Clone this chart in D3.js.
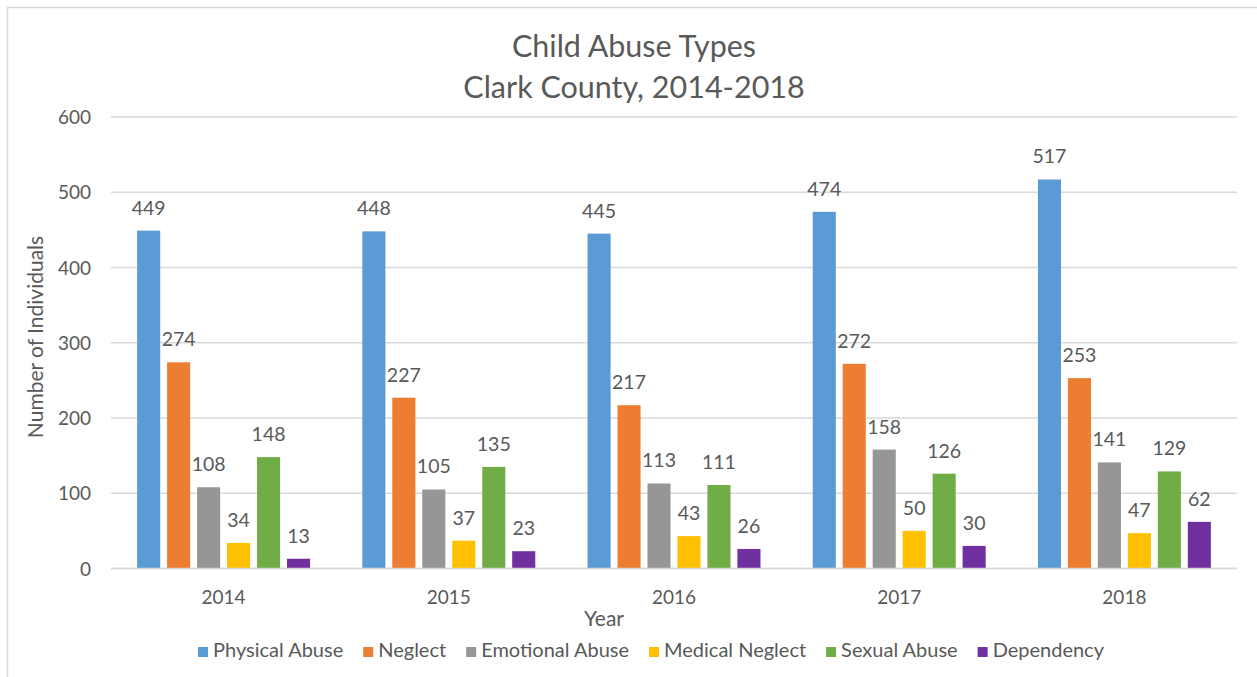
<!DOCTYPE html>
<html>
<head>
<meta charset="utf-8">
<script src="https://cdn.jsdelivr.net/npm/d3@7"></script>
<style>
  html, body { margin: 0; padding: 0; background: #fff; }
  svg { display: block; }
  text { font-family: Lato, "Open Sans", sans-serif; fill: #595959; }
</style>
</head>
<body>
<svg id="chart" width="1257" height="677"></svg>
<script>
const years = ["2014", "2015", "2016", "2017", "2018"];
const seriesNames = ["Physical Abuse", "Neglect", "Emotional Abuse", "Medical Neglect", "Sexual Abuse", "Dependency"];
const physicalAbuse = [449, 448, 445, 474, 517];
const neglect = [274, 227, 217, 272, 253];
const emotionalAbuse = [108, 105, 113, 158, 141];
const medicalNeglect = [34, 37, 43, 50, 47];
const sexualAbuse = [148, 135, 111, 126, 129];
const dependency = [13, 23, 26, 30, 62];
const yTicks = [0, 100, 200, 300, 400, 500, 600];
const colors = ["#5B9BD5", "#ED7D31", "#969696", "#FFC000", "#70AD47", "#7030A0"];

const seriesValues = [physicalAbuse, neglect, emotionalAbuse, medicalNeglect, sexualAbuse, dependency];

const svg = d3.select("#chart");

// chart border
svg.append("rect").attr("x", 7.5).attr("y", 7.5).attr("width", 1260).attr("height", 700)
  .attr("fill", "none").attr("stroke", "#d9d9d9").attr("stroke-width", 1.5);

const x0 = d3.scaleBand().domain(years).range([111, 1237]).paddingInner(0.232).paddingOuter(0.116);
const x1 = d3.scaleBand().domain(seriesNames).range([0, x0.bandwidth()]).paddingInner(0.23).paddingOuter(0);
const y = d3.scaleLinear().domain([0, 600]).range([568.5, 117]);

// gridlines
svg.append("g").selectAll("line").data(yTicks).join("line")
  .attr("x1", 111).attr("x2", 1237)
  .attr("y1", d => y(d)).attr("y2", d => y(d))
  .attr("stroke", "#d9d9d9").attr("stroke-width", 1.5);

// y tick labels
const yAxis = d3.axisLeft(y).tickValues(yTicks).tickSize(0).tickPadding(0);
const gy = svg.append("g").attr("transform", "translate(91,0)").call(yAxis);
gy.select(".domain").remove();
gy.selectAll("text").attr("font-size", 19).style("font-family", "Lato, sans-serif").attr("fill", "#595959").attr("dy", "0.35em");

// x tick labels
const xAxis = d3.axisBottom(x0).tickSize(0).tickPadding(0);
const gx = svg.append("g").attr("transform", "translate(0,590)").call(xAxis);
gx.select(".domain").remove();
gx.selectAll("text").attr("font-size", 19).style("font-family", "Lato, sans-serif").attr("fill", "#595959").attr("dy", "0.72em");

// bars
const groups = svg.append("g").selectAll("g").data(years).join("g")
  .attr("transform", d => `translate(${x0(d)},0)`);

groups.each(function(yr, yi) {
  const g = d3.select(this);
  const data = seriesNames.map((s, si) => ({ s, si, v: seriesValues[si][yi] }));
  g.selectAll("rect").data(data).join("rect")
    .attr("x", d => x1(d.s))
    .attr("width", x1.bandwidth())
    .attr("y", d => y(d.v))
    .attr("height", d => y(0) - y(d.v))
    .attr("fill", d => colors[d.si]);
  g.selectAll("text.lbl").data(data).join("text")
    .attr("class", "lbl")
    .attr("x", d => x1(d.s) + x1.bandwidth() / 2)
    .attr("y", d => y(d.v) - 16)
    .attr("text-anchor", "middle")
    .attr("font-size", 19.5)
    .text(d => d.v);
});

// baseline (0 gridline over bars)
svg.append("line").attr("x1", 111).attr("x2", 1237).attr("y1", y(0)).attr("y2", y(0))
  .attr("stroke", "#d9d9d9").attr("stroke-width", 1.5);

// title
svg.append("text").attr("x", 634).attr("y", 57).attr("text-anchor", "middle").attr("font-size", 30.5).text("Child Abuse Types");
svg.append("text").attr("x", 634).attr("y", 98).attr("text-anchor", "middle").attr("font-size", 30.5).text("Clark County, 2014-2018");

// axis titles
svg.append("text").attr("transform", "translate(43,337) rotate(-90)").attr("text-anchor", "middle").attr("font-size", 21).text("Number of Individuals");
svg.append("text").attr("x", 604).attr("y", 626).attr("text-anchor", "middle").attr("font-size", 21).text("Year");

// legend
const legend = svg.append("g");
const items = legend.selectAll("g").data(seriesNames).join("g");
items.append("rect").attr("width", 10).attr("height", 10).attr("y", -10).attr("fill", (d, i) => colors[i]);
items.append("text").attr("x", 15).attr("font-size", 20).text(d => d);
const gap = 20;
let cx = 0;
items.each(function() {
  const g = d3.select(this);
  g.attr("transform", `translate(${cx},0)`);
  cx += 15 + g.select("text").node().getComputedTextLength() + gap;
});
const total = cx - gap;
legend.attr("transform", `translate(${651 - total / 2},657)`);
</script>
</body>
</html>
